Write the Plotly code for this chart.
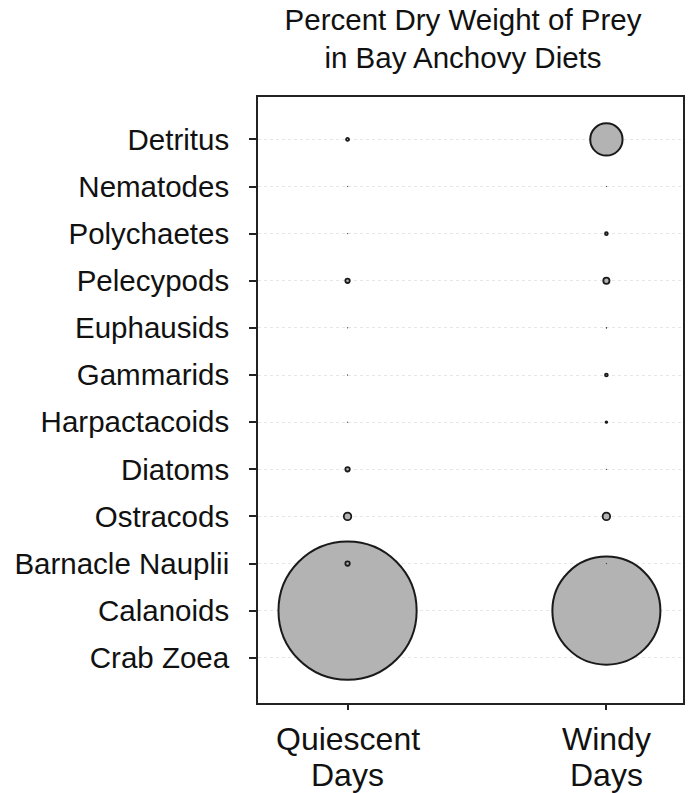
import plotly.graph_objects as go

# ---- data ----
prey = ["Detritus", "Nematodes", "Polychaetes", "Pelecypods", "Euphausids",
        "Gammarids", "Harpactacoids", "Diatoms", "Ostracods",
        "Barnacle Nauplii", "Calanoids", "Crab Zoea"]
conditions = ["Quiescent", "Windy"]
condition_labels = [["Quiescent", "Days"], ["Windy", "Days"]]
quiescent = [2.0, 0.3, 0.3, 3.0, 0.3, 0.3, 0.3, 3.0, 5.1, 3.0, 94.0, 0.0]
windy = [22.0, 0.3, 1.9, 4.2, 0.5, 1.9, 1.1, 0.3, 5.1, 0.3, 73.5, 0.0]
title_lines = ["Percent Dry Weight of Prey", "in Bay Anchovy Diets"]

FONT = "Liberation Sans, Arial, sans-serif"
PX_PER_UNIT = 1.47

fig = go.Figure()

# draw larger bubbles first so small ones stay visible on top
pts = []
for cond, vals in zip(conditions, [quiescent, windy]):
    for p, v in zip(prey, vals):
        if v > 0:
            pts.append((cond, p, v))
pts.sort(key=lambda t: -t[2])

fig.add_trace(go.Scatter(
    x=[t[0] for t in pts],
    y=[t[1] for t in pts],
    mode="markers",
    marker=dict(
        size=[t[2] for t in pts],
        sizemode="diameter",
        sizeref=1 / PX_PER_UNIT,
        color="#b3b3b3",
        opacity=1,
        line=dict(color="#1a1a1a",
                  width=[2.0 if t[2] >= 10 else (1.8 if t[2] >= 1 else 1.0)
                         for t in pts]),
    ),
    hoverinfo="x+y",
    showlegend=False,
    cliponaxis=False,
))

fig.update_layout(
    width=688, height=793, autosize=False,
    margin=dict(l=258, r=3, t=97, b=90),
    paper_bgcolor="white", plot_bgcolor="white",
    font=dict(family=FONT, color="#111111"),
    title=dict(text="<br>".join(title_lines), x=463 / 688, xanchor="center",
               y=0.962, yanchor="top", yref="container",
               font=dict(size=29.5, family=FONT, color="#111111")),
)

fig.update_xaxes(
    type="category", categoryorder="array", categoryarray=conditions,
    range=[-0.346, 1.296],
    showgrid=False, zeroline=False,
    showline=True, linecolor="#222222", linewidth=1.8, mirror=True,
    ticks="outside", ticklen=5, tickwidth=1.5, tickcolor="#222222",
    showticklabels=False,
)

fig.update_yaxes(
    type="category", categoryorder="array", categoryarray=prey[::-1],
    range=[-0.96, 11.9],
    showgrid=True, gridcolor="#e6e6e6", gridwidth=1, griddash="dot",
    zeroline=False,
    showline=True, linecolor="#222222", linewidth=1.8, mirror=True,
    ticks="outside", ticklen=7, tickwidth=1.5, tickcolor="#222222",
    tickfont=dict(size=29.5, family=FONT, color="#111111"),
    ticklabelstandoff=14,
)

# two-line category labels below the x axis
for cond, lines in zip(conditions, condition_labels):
    for i, line in enumerate(lines):
        fig.add_annotation(
            x=cond, xref="x", y=-(16 + 36 * i) / 606, yref="paper",
            text=line, showarrow=False, xanchor="center", yanchor="top",
            font=dict(size=32, family=FONT, color="#111111"),
        )

fig.write_html("out.html",
               config={"displayModeBar": False},
               post_script="document.body.style.margin='0';"
                           "document.body.style.overflow='hidden';")
